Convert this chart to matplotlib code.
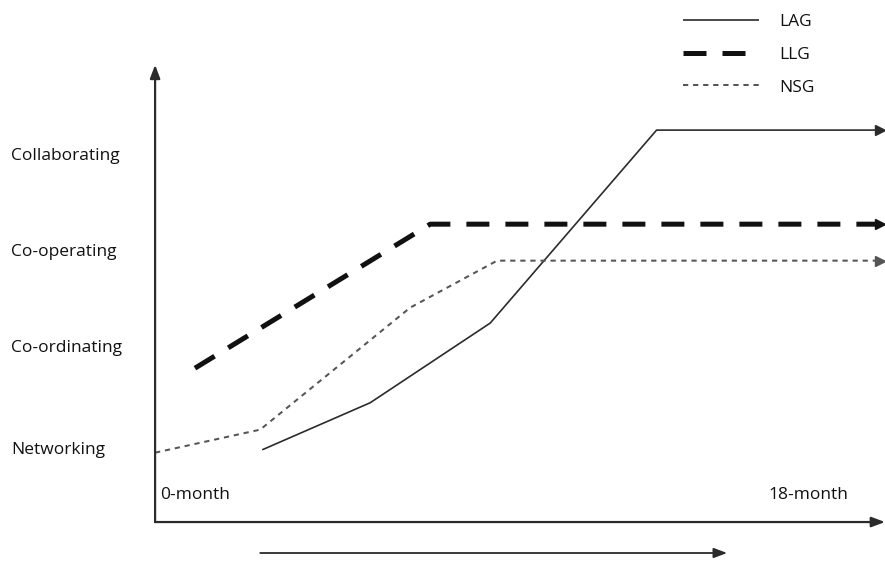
"""Stage-of-collaboration chart: LAG / LLG / NSG over 18 months."""
import matplotlib
matplotlib.use("Agg")
import matplotlib.pyplot as plt  # noqa: E402

plt.rcParams["font.family"] = ["Open Sans", "DejaVu Sans"]

# y levels (0 = Networking ... 3 = Collaborating)
levels = ["Networking", "Co-ordinating", "Co-operating", "Collaborating"]
time_labels = ["0-month", "18-month"]

# series, x in months, y on the level scale
lag_x = [2.66, 5.34, 8.32, 12.45, 18.0]
lag_y = [-0.06, 0.43, 1.26, 3.27, 3.27]
llg_x = [0.99, 6.83, 18.0]
llg_y = [0.79, 2.29, 2.29]
nsg_x = [0.0, 2.61, 6.33, 8.49, 18.0]
nsg_y = [-0.09, 0.15, 1.42, 1.91, 1.91]

INK = "#2b2b2b"

fig = plt.figure(figsize=(8.85, 5.65), dpi=100)
ax = fig.add_axes([0, 0, 1, 1])
ax.set_xlim(-3.85, 18.12)
ax.set_ylim(-1.26, 4.625)
ax.axis("off")

# lines
ax.plot(lag_x, lag_y, color=INK, lw=1.2, solid_capstyle="butt", label="LAG")
ax.plot(llg_x, llg_y, color="#111111", lw=3.6, dashes=(4.6, 3.2),
        dash_capstyle="butt", label="LLG")
ax.plot(nsg_x, nsg_y, color="#555555", lw=1.45, dashes=(2.6, 2.4), label="NSG")
for xs, ys, c in [(lag_x, lag_y, INK), (llg_x, llg_y, "#111111"),
                  (nsg_x, nsg_y, "#555555")]:
    ax.plot(xs[-1], ys[-1], marker=">", ms=7, color=c, mec=c)

# axes with arrow heads
axis_y = -0.8125
head = dict(arrowstyle="-|>,head_length=0.8,head_width=0.3", color=INK, lw=1.6,
            shrinkA=0, shrinkB=0)
ax.annotate("", xy=(0, 3.95), xytext=(0, axis_y), arrowprops=head)
ax.annotate("", xy=(18.12, axis_y), xytext=(0, axis_y), arrowprops=head)
ax.annotate("", xy=(14.2, -1.135), xytext=(2.61, -1.135),
            arrowprops=dict(head, lw=1.3))

# level labels
for i, name in enumerate(levels):
    ax.text(-3.58, i - 0.06 * (i == 0), name, fontsize=12.5, color="#111111",
            ha="left", va="center")

ax.text(0.12, -0.53, time_labels[0], fontsize=12.5, color="#111111",
        ha="left", va="center")
ax.text(17.2, -0.53, time_labels[1], fontsize=12.5, color="#111111",
        ha="right", va="center")

leg = ax.legend(loc="upper left", bbox_to_anchor=(0.764, 0.988), frameon=False,
                fontsize=12.5, handlelength=4.4, labelspacing=0.96,
                handletextpad=1.15, borderaxespad=0)
for t in leg.get_texts():
    t.set_color("#111111")

fig.savefig("out.png", dpi=100)
